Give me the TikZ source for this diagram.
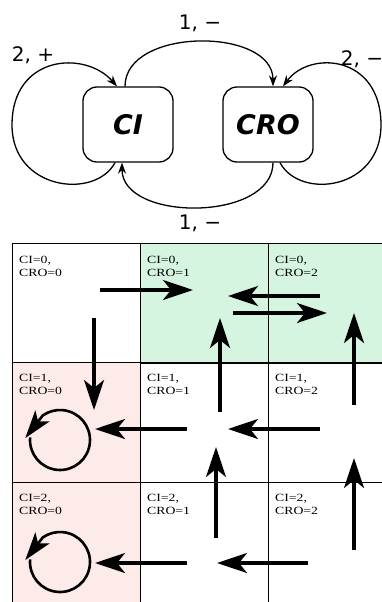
\documentclass[tikz,border=0pt]{standalone}
\usepackage{fontspec}
\setmainfont{Liberation Serif}
\newfontfamily\dvs{DejaVu Sans}
\newfontfamily\cellfont[FakeStretch=1.25]{Liberation Serif}
\usetikzlibrary{arrows.meta}
\definecolor{cellgreen}{HTML}{D5F5E0}
\definecolor{cellpink}{HTML}{FCEBE8}
\begin{document}
\begin{tikzpicture}[x=1pt,y=1pt,
  statebox/.style={draw, line width=1.3pt, rounded corners=14pt, minimum width=90pt, minimum height=75pt, inner sep=0pt, font=\dvs\bfseries\itshape\fontsize{27}{30}\selectfont},
  conn/.style={line width=1.3pt, -{Stealth[length=11pt,width=8pt]}},
  lbl/.style={font=\dvs\fontsize{20}{22}\selectfont, inner sep=0pt},
  cell/.style={draw, line width=0.8pt, minimum width=128pt, minimum height=120pt, inner sep=0pt, anchor=north west},
  celltxt/.style={font=\cellfont\fontsize{11}{13}\selectfont, align=left, anchor=north west, inner sep=0pt},
  bigarrow/.style={line width=3.2pt, -{Stealth[length=30pt,width=20pt,inset=8pt]}},
  loopline/.style={line width=2.6pt, -{Stealth[length=28pt,width=18pt,inset=7pt]}}
]
\useasboundingbox (0,0) rectangle (382,-602);
\clip (0,0) rectangle (382,-602);

% ---- grid ----
\node[cell] (c00) at (12,-243) {};
\node[cell, fill=cellgreen] (c01) at (140,-243) {};
\node[cell, fill=cellgreen] (c02) at (268,-243) {};
\node[cell, fill=cellpink] (c10) at (12,-362) {};
\node[cell] (c11) at (140,-362) {};
\node[cell] (c12) at (268,-362) {};
\node[cell, fill=cellpink] (c20) at (12,-482) {};
\node[cell] (c21) at (140,-482) {};
\node[cell] (c22) at (268,-482) {};

\node[celltxt] (t00) at (19,-256) {CI=0,\\CRO=0};
\node[celltxt] (t01) at (147,-256) {CI=0,\\CRO=1};
\node[celltxt] (t02) at (275,-256) {CI=0,\\CRO=2};
\node[celltxt] (t10) at (19,-374) {CI=1,\\CRO=0};
\node[celltxt] (t11) at (147,-374) {CI=1,\\CRO=1};
\node[celltxt] (t12) at (275,-374) {CI=1,\\CRO=2};
\node[celltxt] (t20) at (19,-494) {CI=2,\\CRO=0};
\node[celltxt] (t21) at (147,-494) {CI=2,\\CRO=1};
\node[celltxt] (t22) at (275,-494) {CI=2,\\CRO=2};

% grid arrows
\draw[bigarrow] (100,-290) -- (193,-290);
\draw[bigarrow] (320,-296) -- (228,-296);
\draw[bigarrow] (233,-313) -- (327,-313);
\draw[bigarrow] (94,-318) -- (94,-410);
\draw[bigarrow] (220,-412) -- (220,-318);
\draw[bigarrow] (354,-405) -- (354,-313);
\draw[bigarrow] (187,-429) -- (95,-429);
\draw[bigarrow] (320,-429) -- (228,-429);
\draw[bigarrow] (216,-538) -- (216,-447);
\draw[bigarrow] (354,-550) -- (354,-458);
\draw[bigarrow] (187,-563) -- (95,-563);
\draw[bigarrow] (308,-563) -- (217,-563);

% self loops in grid
\coordinate (o1) at (60,-440);
\coordinate (o2) at (60,-562);
\draw[loopline] (o1) ++(175:30) arc[start angle=175, end angle=485, radius=30] -- ++(-17.5,-22.6);
\draw[loopline] (o2) ++(175:30) arc[start angle=175, end angle=485, radius=30] -- ++(-17.5,-22.6);

% ---- top diagram ----
\node[statebox] (CI) at (128,-124.5) {CI};
\node[statebox] (CRO) at (268,-124.5) {CRO};

\draw[conn] ([xshift=-3pt]CI.north) .. controls (125,-27) and (273,-27) .. ([xshift=5pt]CRO.north);
\draw[conn] ([xshift=5pt]CRO.south) .. controls (273,-222) and (122,-222) .. ([xshift=-6pt]CI.south);
\draw[conn] ([xshift=-13pt]CI.south) .. controls (95,-200) and (12,-190) .. (12,-125)
   .. controls (12,-55) and (85,-50) .. ([xshift=-11pt]CI.north);
\draw[conn] ([xshift=12pt]CRO.south) .. controls (300,-200) and (381,-190) .. (381,-125)
   .. controls (381,-55) and (310,-50) .. ([xshift=15pt]CRO.north);

\node[lbl] (l1) at (33,-55) {2, +};
\node[lbl] (l2) at (200,-23) {1, −};
\node[lbl] (l3) at (362,-59) {2, −};
\node[lbl] (l4) at (200,-223) {1, −};
\end{tikzpicture}
\end{document}
